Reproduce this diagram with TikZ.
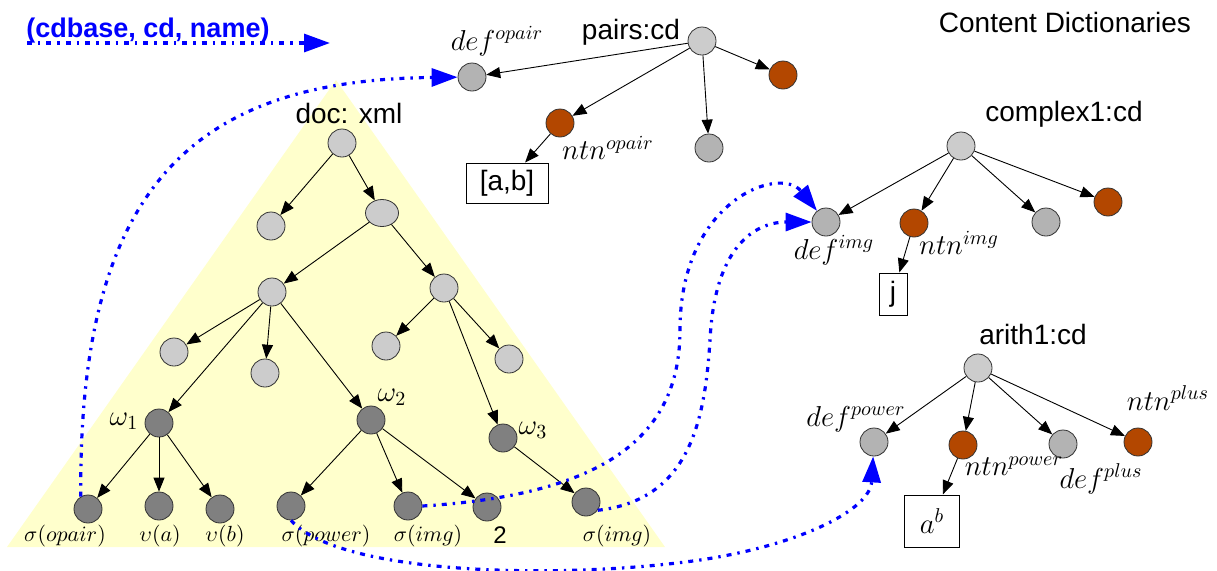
\documentclass[tikz,border=0pt]{standalone}
\usepackage{fontspec}
\setsansfont{Liberation Sans}
\usetikzlibrary{arrows.meta,shapes.geometric}
\definecolor{docc}{HTML}{CCCCCC}
\definecolor{omc}{HTML}{808080}
\definecolor{defc}{HTML}{B3B3B3}
\definecolor{ntnc}{HTML}{B34700}
\definecolor{bgc}{HTML}{FFFFCC}
\definecolor{refc}{HTML}{0000FF}
\tikzset{
  dn/.style={circle, draw=black!80, fill=docc, line width=0.4pt, inner sep=0pt, minimum size=14pt},
  wn/.style={dn, fill=omc},
  dfn/.style={dn, fill=defc},
  ntn/.style={dn, fill=ntnc},
  val/.style={rectangle, draw=black, line width=0.5pt, inner sep=0pt, font=\sffamily\fontsize{14}{16}\selectfont},
  cdlab/.style={font=\sffamily\fontsize{14}{16}\selectfont},
  mlab/.style={font=\fontsize{14.5}{16}\selectfont},
  slab/.style={font=\fontsize{11}{13}\selectfont},
  link/.style={-{Triangle[length=7pt,width=5.5pt]}, line width=0.45pt},
  ref/.style={-{Triangle[length=13pt,width=9pt]}, refc, line width=1.6pt, dash pattern=on 2.5pt off 3pt on 1.2pt off 3pt},
}

\begin{document}
\begin{tikzpicture}[x=0.5pt, y=-0.5pt]
  \useasboundingbox (0,0) rectangle (1217,570);
  \fill[bgc] (7,547) -- (336,80) -- (665,547) -- cycle;
  % document tree
  \node[dn] (r) at (342,143) {};
  \node[dn] (a) at (271,226) {};
  \node[dn, ellipse, minimum width=16.5pt, minimum height=13.5pt] (b) at (382,213) {};
  \node[dn] (c) at (272,292) {};
  \node[dn] (d) at (444,288) {};
  \node[dn] (e) at (174,352) {};
  \node[dn] (f) at (265,373) {};
  \node[dn] (g) at (386,346) {};
  \node[dn] (h) at (509,359) {};
  \node[wn] (w1) at (159,423) {};
  \node[wn] (w2) at (371,420) {};
  \node[wn] (w3) at (503,438) {};
  \node[wn] (l1) at (88,509) {};
  \node[wn] (l2) at (159,506) {};
  \node[wn] (l3) at (220,509) {};
  \node[wn] (l4) at (291,506) {};
  \node[wn] (l5) at (408,506) {};
  \node[wn] (l6) at (487,507) {};
  \node[wn] (l7) at (586,502) {};
  \foreach \s/\t in {r/a, r/b, b/c, b/d, c/e, c/f, c/w1, c/w2, d/g, d/h, d/w3,
                     w1/l1, w1/l2, w1/l3, w2/l4, w2/l5, w2/l6, w3/l7}
    \draw[link] (\s) -- (\t);
  \node[cdlab] (docl) at (349,113) {doc: xml};
  \node[mlab] (w1l) at (124,421) {$\omega_1$};
  \node[mlab] (w2l) at (392,397) {$\omega_2$};
  \node[mlab] (w3l) at (533,430) {$\omega_3$};
  \node[slab] (l1l) at (65,536) {$\sigma(opair)$};
  \node[slab] (l2l) at (160,536) {$\upsilon(a)$};
  \node[slab] (l3l) at (225,536) {$\upsilon(b)$};
  \node[slab] (l4l) at (326,536) {$\sigma(power)$};
  \node[slab] (l5l) at (428,536) {$\sigma(img)$};
  \node[cdlab, font=\sffamily\fontsize{12}{14}\selectfont] (l6l) at (500,535) {2};
  \node[slab] (l7l) at (617,536) {$\sigma(img)$};
  % pairs:cd
  \node[dn] (P) at (702,41) {};
  \node[dfn] (Pd) at (472,77) {};
  \node[ntn] (Pn) at (560,123) {};
  \node[dfn] (Pg) at (709,148) {};
  \node[ntn] (Pb) at (783,75) {};
  \node[val, minimum width=41pt, minimum height=20pt] (Pv) at (507,183) {[a,b]};
  \foreach \t in {Pd, Pn, Pg, Pb} \draw[link] (P) -- (\t);
  \draw[link] (Pn) -- (Pv);
  \node[cdlab] (Pl) at (631,32) {pairs:cd};
  \node[mlab] (Pdl) at (497,41) {$def^{opair}$};
  \node[mlab] (Pnl) at (608,148) {$ntn^{opair}$};
  % complex1:cd
  \node[dn] (C) at (961,146) {};
  \node[dfn] (Cd) at (826,222) {};
  \node[ntn] (Cn) at (914,223) {};
  \node[dfn] (Cg) at (1046,222) {};
  \node[ntn] (Cb) at (1108,202) {};
  \node[val, minimum width=14pt, minimum height=21pt] (Cv) at (893,294) {j};
  \foreach \t in {Cd, Cn, Cg, Cb} \draw[link] (C) -- (\t);
  \draw[link] (Cn) -- (Cv);
  \node[cdlab] (Cl) at (1064,114) {complex1:cd};
  \node[mlab] (Cdl) at (834,250) {$def^{img}$};
  \node[mlab] (Cnl) at (959,243) {$ntn^{img}$};
  % arith1:cd
  \node[dn] (A) at (978,368) {};
  \node[dfn] (Ad) at (874,442) {};
  \node[ntn] (An) at (963,445) {};
  \node[dfn] (Ag) at (1063,444) {};
  \node[ntn] (Ab) at (1138,442) {};
  \node[val, minimum width=27.5pt, minimum height=26pt, font=\fontsize{14.5}{16}\selectfont] (Av) at (932,521) {$a^b$};
  \foreach \t in {Ad, An, Ag, Ab} \draw[link] (A) -- (\t);
  \draw[link] (An) -- (Av);
  \node[cdlab] (Al) at (1033,334) {arith1:cd};
  \node[mlab] (Adl) at (856,419) {$def^{power}$};
  \node[mlab] (Anl) at (1014,466) {$ntn^{power}$};
  \node[mlab] (Agl) at (1101,479) {$def^{plus}$};
  \node[mlab] (Abl) at (1168,398) {$ntn^{plus}$};
  \node[cdlab] (cdt) at (1065,22) {Content Dictionaries};
  % references
  \node[font=\sffamily\bfseries\fontsize{13.5}{16}\selectfont, text=refc] (key) at (148,31) {(cdbase, cd, name)};
  \coordinate (kst) at (27,43);
  \coordinate (ken) at (330,43);
  \draw[ref] (kst) -- (ken);
  \draw[ref] (l1.120) .. controls (78,180) and (200,80) .. (Pd);
  \draw[ref] (l5.east) .. controls (600,495) and (680,440) .. (680,330)
    .. controls (680,200) and (780,165) .. (Cd);
  \draw[ref] (l7.-35) .. controls (690,500) and (705,420) .. (710,340)
    .. controls (715,240) and (760,222) .. (Cd);
  \draw[ref] (l4.south) .. controls (340,575) and (560,580) .. (700,560)
    .. controls (800,545) and (870,510) .. (Ad);
\end{tikzpicture}
\end{document}
